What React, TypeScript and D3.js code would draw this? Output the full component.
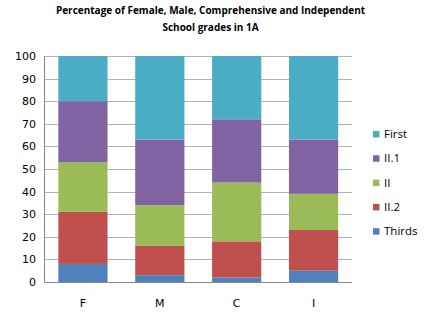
import React from "react";
import * as d3 from "d3";

const categories = ["F", "M", "C", "I"];
const seriesNames = ["Thirds", "II.2", "II", "II.1", "First"];
const thirds = [8, 3, 2, 5];
const ii2 = [23, 13, 16, 18];
const ii = [22, 18, 26, 16];
const ii1 = [27, 29, 28, 24];
const first = [20, 37, 28, 37];
const colors = ["#4F81BD", "#C0504D", "#9BBB59", "#8064A2", "#4BACC6"];
const yTicks = [0, 10, 20, 30, 40, 50, 60, 70, 80, 90, 100];
const titleLines = [
  "Percentage of Female, Male, Comprehensive and Independent",
  "School grades in 1A",
];

const W = 430;
const H = 324;
const left = 44.5;
const right = 352;
const top = 56;
const bottom = 282;
const font = "'Open Sans', 'Noto Sans', sans-serif";
const tickFont = "'DejaVu Sans', sans-serif";

export default function App() {
  const values = [thirds, ii2, ii, ii1, first];
  const rows = categories.map((c, i) => {
    const r: Record<string, any> = { cat: c };
    seriesNames.forEach((s, k) => (r[s] = values[k][i]));
    return r;
  });
  const stack = d3.stack<any>().keys(seriesNames)(rows);
  const x = d3.scaleBand().domain(categories).range([left, right]).paddingInner(0.36).paddingOuter(0.18);
  const y = d3.scaleLinear().domain([0, 100]).range([bottom, top]);
  const legendOrder = [...seriesNames].reverse();

  return (
    <svg width={W} height={H} style={{ position: "absolute", left: 0, top: 0, background: "#fff" }}>
      <rect x={0} y={0} width={W} height={H} fill="#fff" />
      {titleLines.map((t, i) => (
        <text key={i} x={210.5} y={14 + i * 17} textAnchor="middle" fontFamily={font} fontWeight="bold" fontSize={10} fill="#000">
          {t}
        </text>
      ))}
      {yTicks.map((t) => (
        <g key={t}>
          <line x1={left} x2={right} y1={Math.round(y(t)) + 0.5} y2={Math.round(y(t)) + 0.5} stroke={t === 0 ? "#868686" : "#B3B3B3"} strokeWidth={1} />
          <text x={36} y={y(t)} dy="0.36em" textAnchor="end" fontFamily={tickFont} fontSize={11} fill="#000">
            {t}
          </text>
        </g>
      ))}
      <line x1={left} x2={left} y1={top} y2={bottom + 0.5} stroke="#868686" />
      {stack.map((layer, k) => (
        <g key={layer.key} fill={colors[k]}>
          {layer.map((d, i) => (
            <rect key={i} x={x(categories[i])} width={x.bandwidth()} y={y(d[1])} height={y(d[0]) - y(d[1])} />
          ))}
        </g>
      ))}
      {categories.map((c) => (
        <text key={c} x={(x(c) as number) + x.bandwidth() / 2} y={303} dy="0.35em" textAnchor="middle" fontFamily={tickFont} fontSize={11} fill="#000">
          {c}
        </text>
      ))}
      {legendOrder.map((s, i) => {
        const cy = 134 + i * 24.3;
        const k = seriesNames.indexOf(s);
        return (
          <g key={s}>
            <rect x={373} y={cy - 3} width={6.5} height={6.5} fill={colors[k]} />
            <text x={384} y={cy} dy="0.35em" fontFamily={font} fontSize={11.5} fill="#000">
              {s}
            </text>
          </g>
        );
      })}
    </svg>
  );
}
